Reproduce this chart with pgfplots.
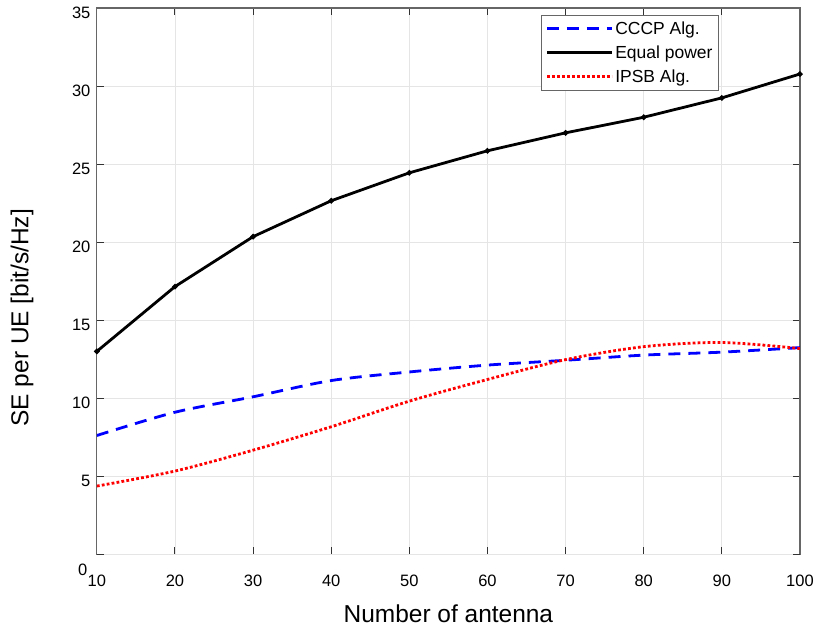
\documentclass[border=0pt]{standalone}
\usepackage{pgfplots}
\pgfplotsset{compat=1.18}
\usepackage{fontspec}
\setmainfont{Liberation Sans}

\begin{document}
\begin{tikzpicture}
\begin{axis}[
	scale only axis,
	width=704pt, height=547pt,
	xmin=10, xmax=100, ymin=0, ymax=35,
	xtick={10,20,...,100}, ytick={5,10,...,35},
	extra y ticks={0},
	extra y tick style={yticklabel style={yshift=-11pt, xshift=-3pt}},
	grid=major,
	grid style={gray!20, line width=0.8pt},
	axis line style={black!60, line width=1.2pt},
	tick style={black!80, line width=1pt},
	tick align=inside,
	major tick length=7pt,
	/pgf/number format/assume math mode=true,
	ticklabel style={font=\fontsize{16.5}{19}\selectfont},
	xticklabel style={yshift=-17pt},
	yticklabel style={xshift=-3pt, yshift=-5pt},
	xlabel={Number of antenna},
	ylabel={SE per UE [bit/s/Hz]},
	label style={font=\fontsize{24.5}{29}\selectfont},
	xlabel style={at={(axis description cs:0.5,-0.108)}, anchor=center},
	ylabel style={at={(axis description cs:-0.1065,0.433)}, anchor=center, rotate=0},
	legend style={at={(0.632,0.987)}, anchor=north west,
		draw=black!60, line width=0.8pt,
		font=\fontsize{17.5}{20}\selectfont,
		inner xsep=4pt, inner ysep=4pt, row sep=6pt},
	legend cell align=left,
	legend image code/.code={\draw[#1] (0pt,0pt) -- (65pt,0pt);},
]
\addplot[blue, line width=2.8pt, dash pattern=on 12pt off 8pt, smooth] coordinates {
	(10,7.61) (20,9.10) (30,10.09) (40,11.13) (50,11.68)
	(60,12.12) (70,12.43) (80,12.76) (90,12.95) (100,13.24)
};
\addlegendentry{CCCP Alg.}
\addplot[black, line width=2.8pt, mark=*, mark size=1.1pt] coordinates {
	(10,13.0) (20,17.15) (30,20.35) (40,22.65) (50,24.44)
	(60,25.85) (70,27.0) (80,28.0) (90,29.24) (100,30.77)
};
\addlegendentry{Equal power}
\addplot[red, line width=2.8pt, dash pattern=on 2.8pt off 2.2pt, smooth] coordinates {
	(10,4.37) (20,5.33) (30,6.67) (40,8.17) (50,9.81)
	(60,11.2) (70,12.47) (80,13.3) (90,13.57) (100,13.18)
};
\addlegendentry{IPSB Alg.}
\end{axis}
\useasboundingbox (current axis.south west) ++(-97pt,-78pt) rectangle ++(817pt,633pt);
\end{tikzpicture}
\end{document}
